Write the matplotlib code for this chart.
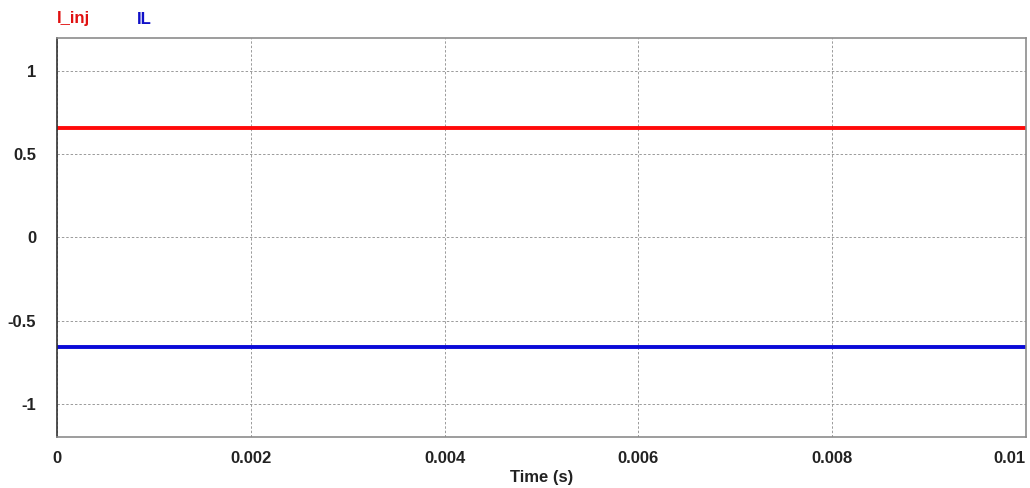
import matplotlib
matplotlib.use("Agg")
import matplotlib.pyplot as plt

# Время моделирования и токи (постоянные значения)
t = [0.0, 0.01]
i_inj = [0.66, 0.66]
i_l = [-0.66, -0.66]

x_ticks = [0, 0.002, 0.004, 0.006, 0.008, 0.01]
x_labels = ["0", "0.002", "0.004", "0.006", "0.008", "0.01"]
y_ticks = [-1, -0.5, 0, 0.5, 1]
y_labels = ["-1", "-0.5", "0", "0.5", "1"]

plt.rcParams["font.family"] = ["Liberation Sans", "DejaVu Sans"]
FS = 12

fig = plt.figure(figsize=(10.30, 4.88), dpi=100)
ax = fig.add_axes([57 / 1030, 1 - 437 / 488, 969 / 1030, 399 / 488])

ax.plot(t, i_inj, color="#ff0a0a", lw=2.8, solid_capstyle="butt")
ax.plot(t, i_l, color="#0a0ad8", lw=2.8, solid_capstyle="butt")

ax.set_xlim(0, 0.01)
ax.set_ylim(-1.2, 1.2)
ax.set_xticks(x_ticks)
ax.set_xticklabels(x_labels, fontsize=FS, fontweight="bold", color="#222222")
ax.set_yticks(y_ticks)
ax.set_yticklabels(y_labels, fontsize=FS, fontweight="bold", color="#222222")
ax.get_xticklabels()[-1].set_horizontalalignment("right")
ax.tick_params(length=0)
ax.tick_params(axis="x", pad=10)
ax.tick_params(axis="y", pad=15)

ax.grid(True, color="#9a9a9a", linestyle=(0, (2.5, 2)), linewidth=0.7)

ax.spines["left"].set_color("#333333")
for side in ("top", "right", "bottom"):
    ax.spines[side].set_color("#8c8c8c")
for sp in ax.spines.values():
    sp.set_linewidth(1.2)

ax.set_xlabel("Time (s)", fontsize=FS, fontweight="bold", color="#222222", labelpad=3)

# подписи сигналов над графиком
fig.text(57 / 1030, 1 - 19 / 488, "I_inj", color="#e01010", fontsize=FS,
         fontweight="bold", va="center", ha="left")
fig.text(137 / 1030, 1 - 19 / 488, "IL", color="#1010c8", fontsize=FS,
         fontweight="bold", va="center", ha="left")

fig.savefig("out.png", dpi=100)
